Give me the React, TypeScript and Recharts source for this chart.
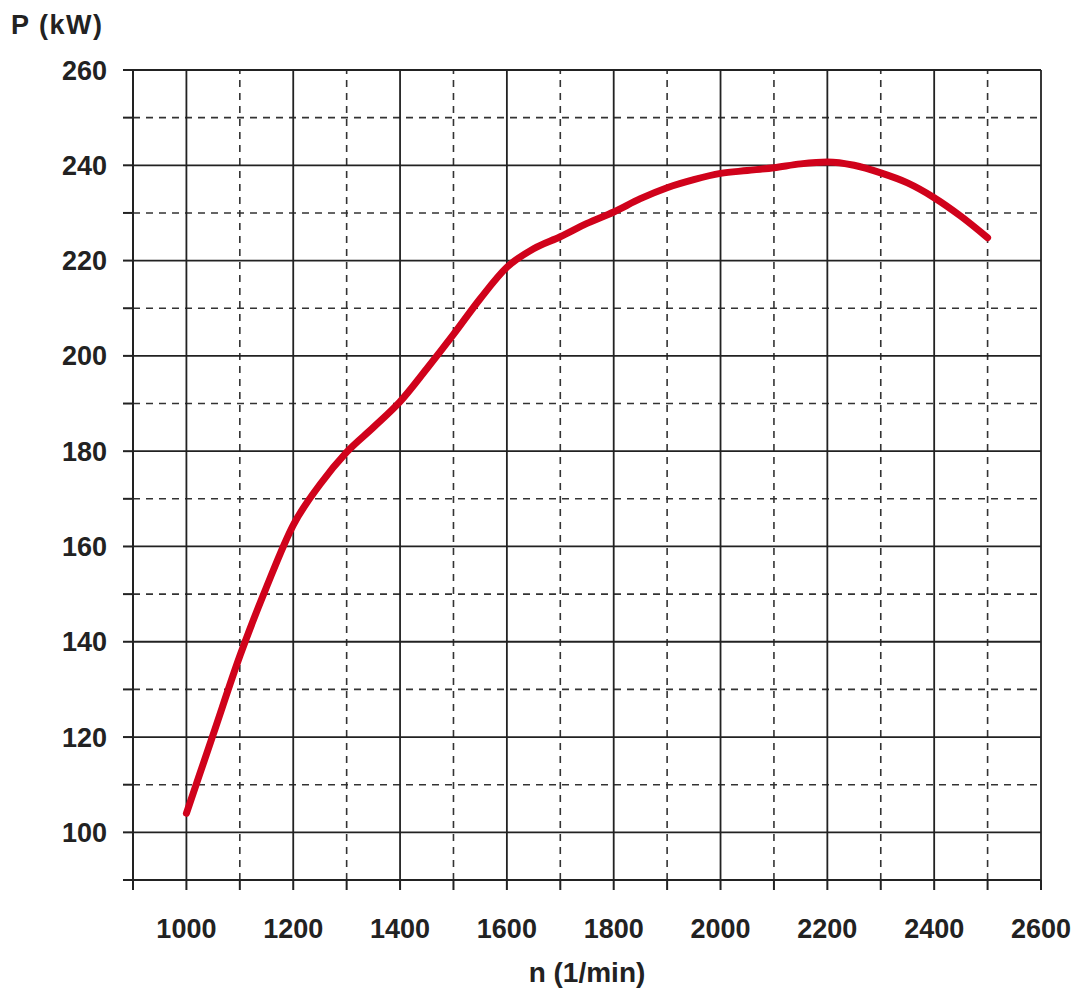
import { LineChart, Line, XAxis, YAxis, ReferenceLine, Label } from "recharts";

// engine speed (1/min) and power (kW)
const rpm = [
  1000, 1050, 1100, 1150, 1200, 1250, 1300, 1350, 1400, 1450, 1500, 1550, 1600, 1650, 1700, 1750,
  1800, 1850, 1900, 1950, 2000, 2050, 2100, 2150, 2200, 2250, 2300, 2350, 2400, 2450, 2500,
];
const power = [
  104, 120.5, 137, 151.5, 164.5, 173, 179.8, 185, 190.4, 197.3, 204.5, 212, 218.6, 222.5, 225, 227.8,
  230.2, 233, 235.3, 237, 238.3, 238.9, 239.5, 240.3, 240.7, 240, 238.4, 236.3, 233.2, 229.3, 224.8,
];

const xTicks = [900, 1000, 1100, 1200, 1300, 1400, 1500, 1600, 1700, 1800, 1900, 2000, 2100, 2200, 2300, 2400, 2500, 2600];
const yTicks = [90, 100, 110, 120, 130, 140, 150, 160, 170, 180, 190, 200, 210, 220, 230, 240, 250, 260];
const xMajor = [1000, 1200, 1400, 1600, 1800, 2000, 2200, 2400, 2600];
const xMinor = [1100, 1300, 1500, 1700, 1900, 2100, 2300, 2500];
const yMajor = [100, 120, 140, 160, 180, 200, 220, 240, 260];
const yMinor = [110, 130, 150, 170, 190, 210, 230, 250];

const data = rpm.map((n, i) => ({ n, p: power[i] }));

const font = "'Liberation Sans', Arial, sans-serif";
const ink = "#222";
const tickStyle = { fill: ink, fontSize: 27, fontWeight: 700, fontFamily: font };

export default function App() {
  return (
    <div style={{ position: "absolute", left: 0, top: 0, width: 1080, height: 994, background: "#fff" }}>
      <LineChart width={1080} height={994} data={data} margin={{ top: 70, right: 39, bottom: 0, left: 0 }}>
        {xMinor.map((v) => (
          <ReferenceLine key={"xm" + v} x={v} stroke="#333" strokeWidth={1.6} strokeDasharray="7 6" />
        ))}
        {yMinor.map((v) => (
          <ReferenceLine key={"ym" + v} y={v} stroke="#333" strokeWidth={1.6} strokeDasharray="7 6" />
        ))}
        {xMajor.map((v) => (
          <ReferenceLine key={"xM" + v} x={v} stroke="#222" strokeWidth={1.8} />
        ))}
        {yMajor.map((v) => (
          <ReferenceLine key={"yM" + v} y={v} stroke="#222" strokeWidth={1.8} />
        ))}
        <XAxis
          type="number"
          dataKey="n"
          domain={[900, 2600]}
          ticks={xTicks}
          interval={0}
          height={114}
          tickSize={10}
          tickMargin={29}
          tickFormatter={(v: number) => (v >= 1000 && v % 200 === 0 ? String(v) : "")}
          axisLine={{ stroke: ink, strokeWidth: 2 }}
          tickLine={{ stroke: ink, strokeWidth: 2 }}
          tick={tickStyle}
        >
          <Label
            value="n (1/min)"
            position="insideBottom"
            offset={12}
            style={{ fill: ink, fontSize: 28, fontWeight: 700, fontFamily: font }}
          />
        </XAxis>
        <YAxis
          type="number"
          domain={[90, 260]}
          ticks={yTicks}
          interval={0}
          width={133}
          tickSize={10}
          tickMargin={16}
          tickFormatter={(v: number) => (v >= 100 && v % 20 === 0 ? String(v) : "")}
          axisLine={{ stroke: ink, strokeWidth: 2 }}
          tickLine={{ stroke: ink, strokeWidth: 2 }}
          tick={tickStyle}
        >
          <Label
            content={() => (
              <text x={11} y={34} fill={ink} fontSize={27} fontWeight={700} fontFamily={font} letterSpacing={1.5}>
                P (kW)
              </text>
            )}
          />
        </YAxis>
        <Line
          type="monotone"
          dataKey="p"
          stroke="#d0021b"
          strokeWidth={7}
          dot={false}
          strokeLinecap="round"
          strokeLinejoin="round"
          isAnimationActive={false}
        />
      </LineChart>
    </div>
  );
}
